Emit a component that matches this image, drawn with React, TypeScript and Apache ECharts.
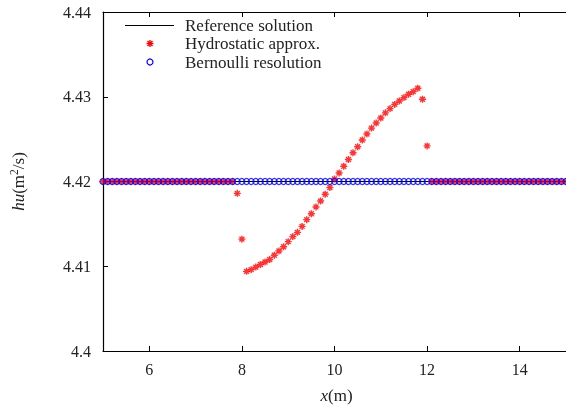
import React, { useEffect, useRef } from "react";
import * as echarts from "echarts";

// x positions of the computed points (m)
const xGrid = [
  5.0, 5.1, 5.2, 5.3, 5.4, 5.5, 5.6, 5.7, 5.8, 5.9,
  6.0, 6.1, 6.2, 6.3, 6.4, 6.5, 6.6, 6.7, 6.8, 6.9,
  7.0, 7.1, 7.2, 7.3, 7.4, 7.5, 7.6, 7.7, 7.8, 7.9,
  8.0, 8.1, 8.2, 8.3, 8.4, 8.5, 8.6, 8.7, 8.8, 8.9,
  9.0, 9.1, 9.2, 9.3, 9.4, 9.5, 9.6, 9.7, 9.8, 9.9,
  10.0, 10.1, 10.2, 10.3, 10.4, 10.5, 10.6, 10.7, 10.8, 10.9,
  11.0, 11.1, 11.2, 11.3, 11.4, 11.5, 11.6, 11.7, 11.8, 11.9,
  12.0, 12.1, 12.2, 12.3, 12.4, 12.5, 12.6, 12.7, 12.8, 12.9,
  13.0, 13.1, 13.2, 13.3, 13.4, 13.5, 13.6, 13.7, 13.8, 13.9,
  14.0, 14.1, 14.2, 14.3, 14.4, 14.5, 14.6, 14.7, 14.8, 14.9,
  15.0,
];

// Hydrostatic approximation hu (m^2/s)
const hydrostaticHu = [
  4.42, 4.42, 4.42, 4.42, 4.42, 4.42, 4.42, 4.42, 4.42, 4.42,
  4.42, 4.42, 4.42, 4.42, 4.42, 4.42, 4.42, 4.42, 4.42, 4.42,
  4.42, 4.42, 4.42, 4.42, 4.42, 4.42, 4.42, 4.42, 4.42, 4.4186,
  4.4132, 4.4094, 4.4096, 4.4099, 4.4102, 4.4105, 4.4108, 4.4113, 4.4118, 4.4123,
  4.4129, 4.4135, 4.414, 4.4147, 4.4155, 4.4162, 4.417, 4.4177, 4.4185, 4.4193,
  4.4203, 4.421, 4.4218, 4.4226, 4.4234, 4.4241, 4.4249, 4.4256, 4.4263, 4.4269,
  4.4275, 4.4281, 4.4286, 4.4291, 4.4295, 4.4299, 4.4303, 4.4306, 4.431, 4.4297,
  4.4242, 4.42, 4.42, 4.42, 4.42, 4.42, 4.42, 4.42, 4.42, 4.42,
  4.42, 4.42, 4.42, 4.42, 4.42, 4.42, 4.42, 4.42, 4.42, 4.42,
  4.42, 4.42, 4.42, 4.42, 4.42, 4.42, 4.42, 4.42, 4.42, 4.42,
  4.42,
];

// Bernoulli resolution hu (m^2/s)
const bernoulliHu = [
  4.42, 4.42, 4.42, 4.42, 4.42, 4.42, 4.42, 4.42, 4.42, 4.42,
  4.42, 4.42, 4.42, 4.42, 4.42, 4.42, 4.42, 4.42, 4.42, 4.42,
  4.42, 4.42, 4.42, 4.42, 4.42, 4.42, 4.42, 4.42, 4.42, 4.42,
  4.42, 4.42, 4.42, 4.42, 4.42, 4.42, 4.42, 4.42, 4.42, 4.42,
  4.42, 4.42, 4.42, 4.42, 4.42, 4.42, 4.42, 4.42, 4.42, 4.42,
  4.42, 4.42, 4.42, 4.42, 4.42, 4.42, 4.42, 4.42, 4.42, 4.42,
  4.42, 4.42, 4.42, 4.42, 4.42, 4.42, 4.42, 4.42, 4.42, 4.42,
  4.42, 4.42, 4.42, 4.42, 4.42, 4.42, 4.42, 4.42, 4.42, 4.42,
  4.42, 4.42, 4.42, 4.42, 4.42, 4.42, 4.42, 4.42, 4.42, 4.42,
  4.42, 4.42, 4.42, 4.42, 4.42, 4.42, 4.42, 4.42, 4.42, 4.42,
  4.42,
];

// Reference solution
const referenceX = [5, 15];
const referenceHu = [4.42, 4.42];

const xTicks = [6, 8, 10, 12, 14];
const yTicks = [4.4, 4.41, 4.42, 4.43, 4.44];
const legendNames = ["Reference solution", "Hydrostatic approx.", "Bernoulli resolution"];

const FONT = "Liberation Serif";
const TEXT = "#222";
const STAR = "path://M0,5L10,5M5,0L5,10M1.5,1.5L8.5,8.5M8.5,1.5L1.5,8.5";

export default function App() {
  const ref = useRef<HTMLDivElement>(null);
  useEffect(() => {
    if (!ref.current) return;
    const chart = echarts.init(ref.current, undefined, { renderer: "svg" });
    const axisLine = { show: true, lineStyle: { color: "#000", width: 1.2 } };
    const tick = { inside: true, length: 5, lineStyle: { color: "#000", width: 1 } };
    const gridLeft = 103;
    const gridTop = 12;
    const gridRight = -4;
    const gridBottom = 59;
    const plotW = 566 - gridLeft - gridRight;
    const plotH = 410 - gridTop - gridBottom;
    const nameRich = {
      i: { fontFamily: FONT, fontStyle: "italic", fontSize: 17, fill: TEXT },
      r: { fontFamily: FONT, fontSize: 17, fill: TEXT },
      sup: { fontFamily: FONT, fontSize: 11.5, fill: TEXT, verticalAlign: "top", lineHeight: 20 },
    };
    chart.setOption({
      animation: false,
      textStyle: { fontFamily: FONT },
      grid: { left: gridLeft, top: gridTop, right: gridRight, bottom: gridBottom, containLabel: false },
      xAxis: [
        {
          type: "value",
          min: 5,
          max: 15,
          axisLine,
          axisTick: { ...tick, customValues: xTicks },
          splitLine: { show: false },
          axisLabel: {
            customValues: xTicks,
            fontFamily: FONT,
            fontSize: 16,
            color: TEXT,
            margin: 10,
          },
        },
        {
          type: "value",
          position: "top",
          min: 5,
          max: 15,
          axisLine,
          axisTick: { ...tick, customValues: xTicks },
          splitLine: { show: false },
          axisLabel: { show: false },
        },
      ],
      yAxis: [
        {
          type: "value",
          min: 4.4,
          max: 4.44,
          axisLine,
          axisTick: { ...tick, customValues: yTicks },
          splitLine: { show: false },
          axisLabel: {
            customValues: yTicks,
            fontFamily: FONT,
            fontSize: 16,
            color: TEXT,
            margin: 12,
            formatter: (v: number) => String(parseFloat(v.toFixed(2))),
          },
        },
      ],
      series: [
        {
          name: legendNames[0],
          type: "line",
          data: referenceX.map((x, i) => [x, referenceHu[i]]),
          showSymbol: false,
          symbol: "none",
          lineStyle: { color: "#000", width: 1 },
          z: 1,
        },
        {
          name: legendNames[1],
          type: "scatter",
          data: xGrid.map((x, i) => [x, hydrostaticHu[i]]),
          symbol: STAR,
          symbolSize: 7,
          itemStyle: { color: "rgba(0,0,0,0)", borderColor: "#ff0000", borderWidth: 1.4 },
          z: 2,
        },
        {
          name: legendNames[2],
          type: "scatter",
          data: xGrid.map((x, i) => [x, bernoulliHu[i]]),
          symbol: "circle",
          symbolSize: 6,
          itemStyle: { color: "rgba(0,0,0,0)", borderColor: "#0000ff", borderWidth: 1.2 },
          z: 3,
        },
      ],
      graphic: [
        // legend
        { type: "line", shape: { x1: 125, y1: 25.5, x2: 174, y2: 25.5 }, style: { stroke: "#000", lineWidth: 1 } },
        {
          type: "group",
          x: 150,
          y: 43.5,
          children: [
            { type: "line", shape: { x1: -3.5, y1: 0, x2: 3.5, y2: 0 }, style: { stroke: "#ff0000", lineWidth: 1.4 } },
            { type: "line", shape: { x1: 0, y1: -3.5, x2: 0, y2: 3.5 }, style: { stroke: "#ff0000", lineWidth: 1.4 } },
            { type: "line", shape: { x1: -2.5, y1: -2.5, x2: 2.5, y2: 2.5 }, style: { stroke: "#ff0000", lineWidth: 1.4 } },
            { type: "line", shape: { x1: 2.5, y1: -2.5, x2: -2.5, y2: 2.5 }, style: { stroke: "#ff0000", lineWidth: 1.4 } },
          ],
        },
        { type: "circle", shape: { cx: 150, cy: 62, r: 3 }, style: { fill: "none", stroke: "#0000ff", lineWidth: 1.2 } },
        ...legendNames.map((n, i) => ({
          type: "text",
          x: 185,
          y: 25 + i * 18.5,
          style: {
            text: n,
            fontFamily: FONT,
            fontSize: 17,
            fill: TEXT,
            textAlign: "left",
            textVerticalAlign: "middle",
          },
        })),
        // axis names
        {
          type: "text",
          x: gridLeft + plotW / 2,
          y: 395,
          style: {
            text: "{i|x}{r|(m)}",
            fontFamily: FONT,
            fontSize: 17,
            fill: TEXT,
            textAlign: "center",
            textVerticalAlign: "middle",
            rich: nameRich,
          },
        },
        {
          type: "text",
          x: 18,
          y: gridTop + plotH / 2,
          rotation: Math.PI / 2,
          style: {
            text: "{i|hu}{r|(m}{sup|2}{r|/s)}",
            fontFamily: FONT,
            fontSize: 17,
            fill: TEXT,
            textAlign: "center",
            textVerticalAlign: "middle",
            rich: nameRich,
          },
        },
      ],
    });
    return () => chart.dispose();
  }, []);
  return (
    <div
      ref={ref}
      style={{ position: "fixed", left: 0, top: 0, width: 566, height: 410 }}
    />
  );
}
